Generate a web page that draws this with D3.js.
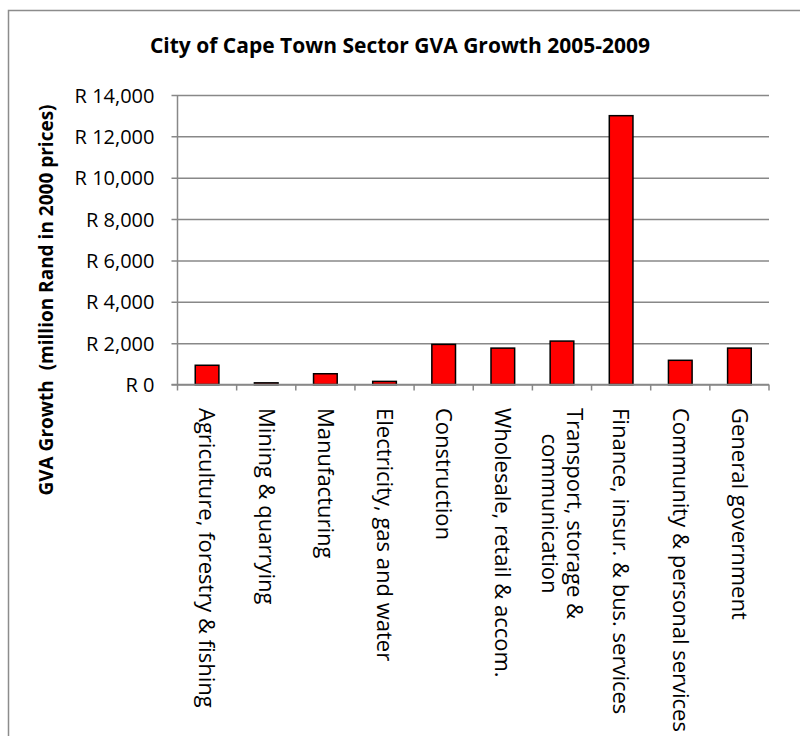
<!DOCTYPE html>
<html>
<head>
<meta charset="utf-8">
<script src="https://cdn.jsdelivr.net/npm/d3@7"></script>
<style>
  html, body { margin: 0; padding: 0; background: #fff; }
  svg { display: block; }
  text { font-family: "Open Sans", "Noto Sans", sans-serif; fill: #000; }
</style>
</head>
<body>
<svg id="chart" width="800" height="736"></svg>
<script>
// Sector GVA growth, City of Cape Town, 2005-2009 (million Rand, 2000 prices)
const categories = [
  "Agriculture, forestry & fishing",
  "Mining & quarrying",
  "Manufacturing",
  "Electricity, gas and water",
  "Construction",
  "Wholesale, retail & accom.",
  "Transport, storage & communication",
  "Finance, insur. & bus. services",
  "Community & personal services",
  "General government"
];
const categoryLines = [
  ["Agriculture, forestry & fishing"],
  ["Mining & quarrying"],
  ["Manufacturing"],
  ["Electricity, gas and water"],
  ["Construction"],
  ["Wholesale, retail & accom."],
  ["Transport, storage &", "communication"],
  ["Finance, insur. & bus. services"],
  ["Community & personal services"],
  ["General government"]
];
const growth = [930, 80, 520, 150, 1940, 1760, 2100, 13000, 1170, 1760];
const yTicks = [0, 2000, 4000, 6000, 8000, 10000, 12000, 14000];

const title = "City of Cape Town Sector GVA Growth 2005-2009";
const yTitle = "GVA Growth  (million Rand in 2000 prices)";

const svg = d3.select("#chart");
const plot = { left: 177.5, right: 769, top: 95, bottom: 384.5 };
const gridColor = "#888888";

// chart frame
svg.append("rect")
  .attr("x", 8.5).attr("y", 10.5)
  .attr("width", 820).attr("height", 760)
  .attr("fill", "#fff")
  .attr("stroke", "#8c8c8c")
  .attr("stroke-width", 1.5);

const x = d3.scaleBand()
  .domain(categories)
  .range([plot.left, plot.right])
  .paddingInner(0.6)
  .paddingOuter(0.3);

const y = d3.scaleLinear()
  .domain([0, 14000])
  .range([plot.bottom, plot.top]);

// horizontal gridlines + y axis
const yAxis = d3.axisLeft(y)
  .tickValues(yTicks)
  .tickSize(-(plot.right - plot.left))
  .tickSizeOuter(0)
  .tickPadding(0)
  .tickFormat(d => "R " + d3.format(",")(d));

const gy = svg.append("g")
  .attr("transform", `translate(${plot.left},0)`)
  .call(yAxis);
gy.select(".domain").remove();
gy.selectAll(".tick line")
  .attr("x1", -6)
  .attr("stroke", gridColor)
  .attr("stroke-width", 1.5);
gy.selectAll(".tick text")
  .attr("x", -23)
  .attr("dy", "0.35em")
  .style("font-size", "20px")
  .style("font-family", "'Open Sans', sans-serif");

// vertical axis line
svg.append("line")
  .attr("x1", plot.left).attr("x2", plot.left)
  .attr("y1", plot.top).attr("y2", plot.bottom)
  .attr("stroke", gridColor).attr("stroke-width", 1.5);

// bars
svg.append("g")
  .selectAll("rect")
  .data(categories)
  .join("rect")
  .attr("x", d => x(d))
  .attr("width", x.bandwidth())
  .attr("y", (d, i) => y(growth[i]))
  .attr("height", (d, i) => y(0) - y(growth[i]))
  .attr("fill", "#ff0000")
  .attr("stroke", "#000")
  .attr("stroke-width", 1.5);

// horizontal axis line and category boundary ticks
svg.append("line")
  .attr("x1", plot.left - 6).attr("x2", plot.right)
  .attr("y1", y(0)).attr("y2", y(0))
  .attr("stroke", gridColor).attr("stroke-width", 1.5);

const step = x.step();
svg.append("g")
  .selectAll("line")
  .data(d3.range(categories.length + 1))
  .join("line")
  .attr("x1", i => plot.left + i * step)
  .attr("x2", i => plot.left + i * step)
  .attr("y1", y(0))
  .attr("y2", y(0) + 6)
  .attr("stroke", gridColor)
  .attr("stroke-width", 1.5);

// rotated category labels, read top to bottom
const labelTop = 408;
const lineGap = 25;
const catG = svg.append("g");
categories.forEach((c, i) => {
  const cx = x(c) + x.bandwidth() / 2;
  const lines = categoryLines[i];
  const g = catG.append("g")
    .attr("transform", `translate(${cx},${labelTop}) rotate(90)`);
  const texts = lines.map((ln, k) => g.append("text")
    .attr("y", (k - (lines.length - 1) / 2) * lineGap)
    .attr("dy", "0.35em")
    .style("font-size", "22px")
    .text(ln));
  const maxLen = d3.max(texts, t => t.node().getComputedTextLength());
  texts.forEach(t => t.attr("x", maxLen / 2).attr("text-anchor", "middle"));
});

// chart title
svg.append("text")
  .attr("x", 400).attr("y", 53)
  .attr("text-anchor", "middle")
  .style("font-size", "21px")
  .style("font-weight", "bold")
  .text(title);

// y axis title
svg.append("text")
  .attr("transform", "translate(46,300) rotate(-90)")
  .attr("text-anchor", "middle")
  .attr("dy", "0.35em")
  .style("font-size", "19px")
  .style("font-weight", "bold")
  .style("white-space", "pre")
  .text(yTitle);
</script>
</body>
</html>
